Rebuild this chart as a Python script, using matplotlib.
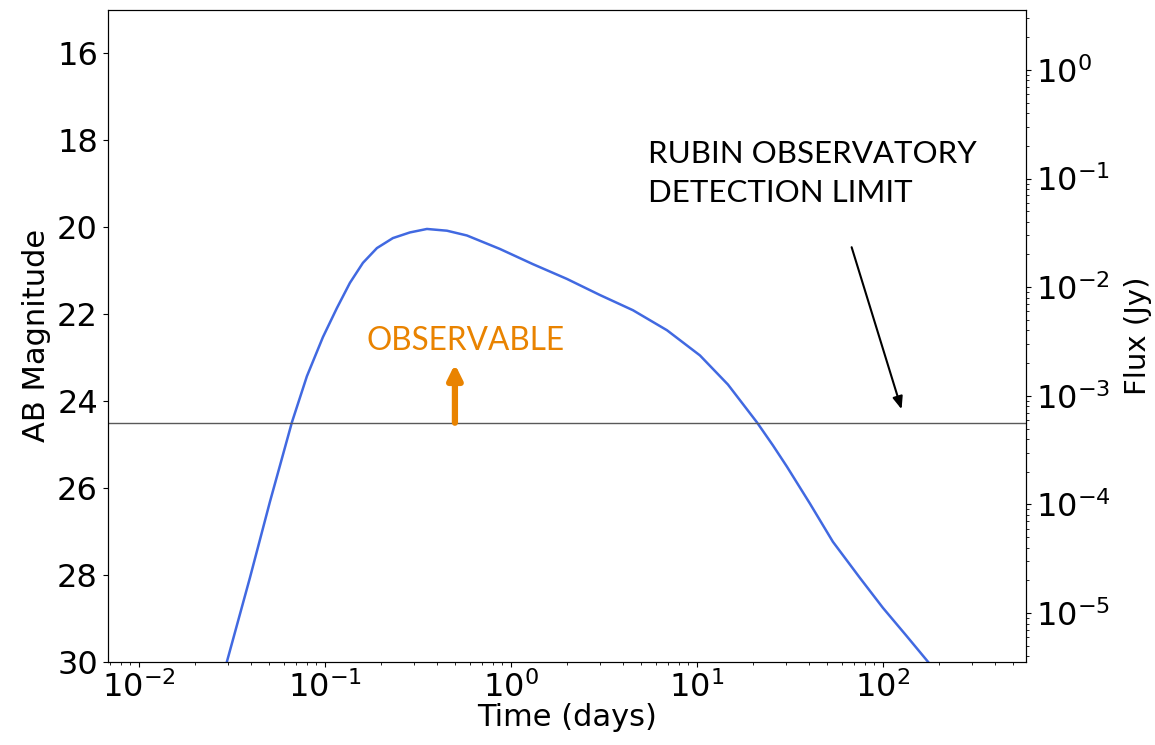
import numpy as np
import matplotlib
matplotlib.use("Agg")
import matplotlib.pyplot as plt

time_days = [0.02972, 0.03951, 0.05062, 0.05728, 0.06646, 0.0800, 0.09754,
             0.1160, 0.1363, 0.1601, 0.1904, 0.2320, 0.2864, 0.3535, 0.4529,
             0.5800, 0.8727, 1.313, 2.001, 3.009, 4.529, 6.898, 10.38, 14.68,
             21.02, 25.62, 30.47, 40.51, 53.85, 75.20, 100.0, 133.0, 174.6]
ab_mag = [30.0, 28.07, 26.32, 25.49, 24.49, 23.43, 22.53,
          21.86, 21.28, 20.82, 20.48, 20.25, 20.12, 20.04, 20.08,
          20.19, 20.50, 20.85, 21.19, 21.56, 21.91, 22.37, 22.95, 23.62,
          24.49, 25.02, 25.51, 26.36, 27.24, 28.07, 28.76, 29.39, 30.0]

detection_limit = 24.5
flux_zero_mag = 16.38

def mag_to_flux(m):
    return 10 ** ((flux_zero_mag - np.asarray(m)) / 2.5)

fig = plt.figure(figsize=(11.55, 7.45), dpi=100)
ax = fig.add_axes([0.0932, 0.1118, 0.795, 0.8748])

ax.plot(time_days, ab_mag, color="#4169E1", lw=1.8)
ax.axhline(detection_limit, color="0.35", lw=1.0)

ax.set_xscale("log")
ax.set_xlim(0.00679, 587)
ax.set_ylim(30, 15)
ax.set_yticks([16, 18, 20, 22, 24, 26, 28, 30])
ax.set_xlabel("Time (days)", fontsize=22, labelpad=-1)
ax.set_ylabel("AB Magnitude", fontsize=22)
ax.tick_params(labelsize=23)

ax2 = ax.twinx()
ax2.set_yscale("log")
ax2.set_ylim(mag_to_flux(30), mag_to_flux(15))
ax2.set_ylabel("Flux (Jy)", fontsize=21, labelpad=10)
ax2.tick_params(labelsize=23)

# annotations
ann_font = "Lato"
ax.annotate("", xy=(0.5, 23.15), xytext=(0.5, detection_limit),
            arrowprops=dict(arrowstyle="-|>,head_length=0.85,head_width=0.42",
                            color="#E98300", lw=4.5, shrinkA=0, shrinkB=0))
ax.text(0.573, 22.62, "OBSERVABLE", color="#E98300", fontsize=22.7,
        family=ann_font, ha="center", va="center")

ax.annotate("", xy=(126, 24.19), xytext=(67.9, 20.46),
            arrowprops=dict(arrowstyle="-|>,head_length=0.75,head_width=0.3",
                            color="black", lw=1.5, shrinkA=0, shrinkB=0))
ax.text(5.45, 18.0, "RUBIN OBSERVATORY\nDETECTION LIMIT", color="black",
        fontsize=22.5, family=ann_font, ha="left", va="top", linespacing=1.45)

fig.savefig("out.png", dpi=100)
